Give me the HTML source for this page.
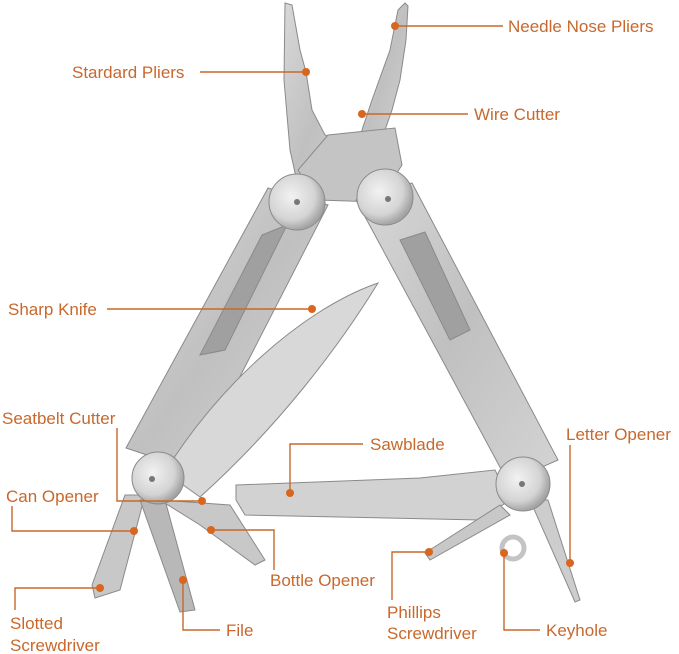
<!DOCTYPE html>
<html><head><meta charset="utf-8"><style>
html,body{margin:0;padding:0;background:#fff;}
svg{display:block}
text{font-family:"Liberation Sans",sans-serif;font-size:17px;fill:#c8682c;}
</style></head><body>
<svg width="679" height="654" viewBox="0 0 679 654">
<defs>
<linearGradient id="m" x1="0" y1="0" x2="1" y2="1">
<stop offset="0" stop-color="#d8d8d8"/><stop offset="0.5" stop-color="#c0c0c0"/><stop offset="1" stop-color="#d4d4d4"/>
</linearGradient>
<radialGradient id="p" cx="0.4" cy="0.4" r="0.6">
<stop offset="0" stop-color="#f2f2f2"/><stop offset="0.7" stop-color="#d4d4d4"/><stop offset="1" stop-color="#a4a4a4"/>
</radialGradient>
</defs>
<g stroke="#8a8a8a" stroke-width="1">
<polygon points="285,3 292,5 300,50 306,72 312,110 325,135 340,140 360,160 345,200 300,195 290,150 284,80" fill="url(#m)"/>
<polygon points="405,3 408,6 406,40 400,80 392,110 385,130 395,160 392,170 380,165 355,170 362,130 372,100 390,50 398,10" fill="url(#m)"/>
<polygon points="328,135 395,128 402,165 378,202 318,200 298,170" fill="#c4c4c4"/>
<polygon points="268,188 328,205 192,470 126,448" fill="url(#m)"/>
<polygon points="262,235 287,225 225,350 200,355" fill="#a0a0a0"/>
<polygon points="356,200 412,183 558,460 508,482" fill="url(#m)"/>
<polygon points="400,240 425,232 470,330 450,340" fill="#a0a0a0"/>
<path d="M165,472 C215,390 300,310 378,283 C340,345 280,425 200,497 Z" fill="#d8d8d8"/>
<polygon points="236,485 420,478 495,470 510,500 480,520 245,515 236,500" fill="#d2d2d2"/>
<polygon points="125,495 145,495 120,590 95,598 92,585" fill="#c8c8c8"/>
<polygon points="140,500 165,500 195,610 180,612" fill="#b8b8b8"/>
<polygon points="160,500 230,505 265,560 255,565 200,525" fill="#c8c8c8"/>
<polygon points="425,553 500,505 510,515 430,560" fill="#c8c8c8"/>
<polygon points="530,500 548,500 580,600 575,602" fill="#cdcdcd"/>
<circle cx="513" cy="548" r="11" fill="none" stroke="#c4c4c4" stroke-width="5"/>
<circle cx="297" cy="202" r="28" fill="url(#p)"/>
<circle cx="385" cy="197" r="28" fill="url(#p)"/>
<circle cx="158" cy="478" r="26" fill="url(#p)"/>
<circle cx="523" cy="484" r="27" fill="url(#p)"/>
</g>
<g fill="#777"><circle cx="297" cy="202" r="3"/><circle cx="388" cy="199" r="3"/><circle cx="152" cy="479" r="3"/><circle cx="522" cy="484" r="3"/></g>
<g stroke="#c8682c" stroke-width="1.4" fill="none">
<line x1="395" y1="26" x2="503" y2="26"/>
<line x1="200" y1="72" x2="306" y2="72"/>
<line x1="362" y1="114" x2="468" y2="114"/>
<line x1="107" y1="309" x2="312" y2="309"/>
<polyline points="117,428 117,501 202,501"/>
<polyline points="12,506 12,531 134,531"/>
<polyline points="15,610 15,588 100,588"/>
<polyline points="183,580 183,630 220,630"/>
<polyline points="211,530 274,530 274,570"/>
<polyline points="363,444 290,444 290,493"/>
<polyline points="429,552 392,552 392,600"/>
<polyline points="504,553 504,630 540,630"/>
<line x1="570" y1="445" x2="570" y2="563"/>
</g>
<g fill="#d9661e">
<circle cx="395" cy="26" r="4"/><circle cx="306" cy="72" r="4"/><circle cx="362" cy="114" r="4"/>
<circle cx="312" cy="309" r="4"/><circle cx="202" cy="501" r="4"/><circle cx="134" cy="531" r="4"/>
<circle cx="100" cy="588" r="4"/><circle cx="183" cy="580" r="4"/><circle cx="211" cy="530" r="4"/>
<circle cx="290" cy="493" r="4"/><circle cx="429" cy="552" r="4"/><circle cx="504" cy="553" r="4"/>
<circle cx="570" cy="563" r="4"/>
</g>
<text x="508" y="32">Needle Nose Pliers</text>
<text x="72" y="78">Stardard Pliers</text>
<text x="474" y="120">Wire Cutter</text>
<text x="8" y="315">Sharp Knife</text>
<text x="2" y="424">Seatbelt Cutter</text>
<text x="6" y="502">Can Opener</text>
<text x="10" y="629">Slotted</text>
<text x="10" y="651">Screwdriver</text>
<text x="226" y="636">File</text>
<text x="270" y="586">Bottle Opener</text>
<text x="370" y="450">Sawblade</text>
<text x="566" y="440">Letter Opener</text>
<text x="387" y="618">Phillips</text>
<text x="387" y="639">Screwdriver</text>
<text x="546" y="636">Keyhole</text>
</svg>
</body></html>
